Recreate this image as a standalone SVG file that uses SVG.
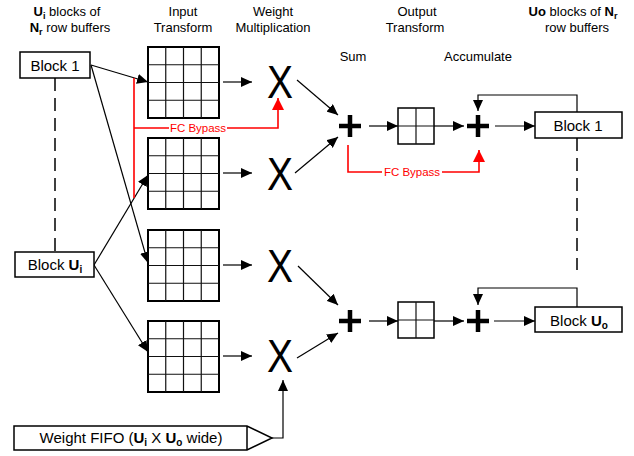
<svg xmlns="http://www.w3.org/2000/svg" xmlns:xlink="http://www.w3.org/1999/xlink" width="634" height="456" viewBox="0 0 634 456">
<style>
text{font-family:"Liberation Sans",Arial,sans-serif;fill:#000}
.lbl{font-size:13px}
.blk{font-size:15px}
.b{font-weight:bold}
.box{fill:#fff;stroke:#000;stroke-width:1.5}
.gout{fill:#fff;stroke:#000;stroke-width:2}
.gin{stroke:#111;stroke-width:1.2;fill:none}
.x{font-size:47px}
.plus{stroke:#000;stroke-width:4.5;fill:none}
.ln{stroke:#000;stroke-width:1.2;fill:none}
.arr{marker-end:url(#ah)}
.red{stroke:#f00;stroke-width:1.6;fill:none}
.redt{font-size:11.5px;fill:#f00}
.dash{stroke:#000;stroke-width:1.5;fill:none;stroke-dasharray:13,7}
</style>
<defs>
<marker id="ah" markerUnits="userSpaceOnUse" markerWidth="12" markerHeight="10" refX="11" refY="5" orient="auto">
<path d="M0,0 L11,5 L0,10 Z" fill="#000"/>
</marker>
<marker id="rah" markerUnits="userSpaceOnUse" markerWidth="12" markerHeight="14" refX="12" refY="6" orient="auto">
<path d="M0,0 L12,6 L0,12 Z" fill="#f00"/>
</marker>
<g id="g4">
<rect class="gout" x="0" y="0" width="71" height="71"/>
<path class="gin" d="M17.75,0V71M35.5,0V71M53.25,0V71M0,17.75H71M0,35.5H71M0,53.25H71"/>
</g>
<g id="g2">
<rect class="gout" x="0" y="0" width="36" height="36" style="stroke-width:1.5"/>
<path class="gin" d="M18,0V36M0,18H36"/>
</g>
</defs>
<rect width="634" height="456" fill="#fff"/>

<g id="headers">
<text class="lbl" x="67" y="16" text-anchor="middle"><tspan class="b">U</tspan><tspan class="b" font-size="9" dy="3">i</tspan><tspan dy="-3"> blocks of</tspan></text>
<text class="lbl" x="70" y="32" text-anchor="middle"><tspan class="b">N</tspan><tspan class="b" font-size="9" dy="3">r</tspan><tspan dy="-3"> row buffers</tspan></text>
<text class="lbl" x="183" y="16" text-anchor="middle">Input</text>
<text class="lbl" x="183" y="32" text-anchor="middle">Transform</text>
<text class="lbl" x="273" y="16" text-anchor="middle">Weight</text>
<text class="lbl" x="273" y="32" text-anchor="middle">Multiplication</text>
<text class="lbl" x="353" y="61" text-anchor="middle">Sum</text>
<text class="lbl" x="417" y="16" text-anchor="middle">Output</text>
<text class="lbl" x="415" y="32" text-anchor="middle">Transform</text>
<text class="lbl" x="478" y="61" text-anchor="middle">Accumulate</text>
<text class="lbl" x="573" y="16" text-anchor="middle"><tspan class="b">Uo</tspan><tspan> blocks of </tspan><tspan class="b">N</tspan><tspan class="b" font-size="9" dy="3">r</tspan></text>
<text class="lbl" x="577" y="32" text-anchor="middle">row buffers</text>
</g>

<g id="connectors">
<path class="dash" d="M55,78V252"/>
<path class="dash" d="M577,138V270"/>
<path class="ln arr" d="M91,65L148,82"/>
<path class="ln arr" d="M91,65L148,263"/>
<path class="ln arr" d="M94,265L148,175"/>
<path class="ln arr" d="M94,265L148,352"/>
<path class="ln arr" d="M223,82H252"/>
<path class="ln arr" d="M223,173H252"/>
<path class="ln arr" d="M223,265H252"/>
<path class="ln arr" d="M223,356H252"/>
<path class="ln arr" d="M297,80L338,115"/>
<path class="ln arr" d="M295,173L338,137"/>
<path class="ln arr" d="M298,266L338,305"/>
<path class="ln arr" d="M297,358L338,333"/>
<path class="ln arr" d="M369,126H398"/>
<path class="ln arr" d="M434,126H464"/>
<path class="ln arr" d="M495,126H535"/>
<path class="ln arr" d="M577,112V95H478V111"/>
<path class="ln arr" d="M369,321H398"/>
<path class="ln arr" d="M434,321H464"/>
<path class="ln arr" d="M494,321H535"/>
<path class="ln arr" d="M577,307V288H478V305"/>
<path class="ln arr" d="M272,438H283V380"/>
<path class="red" d="M134,78V198M134,128H169"/>
<path class="red" d="M227,128H278V98" marker-end="url(#rah)"/>
<text class="redt" x="198" y="132" text-anchor="middle">FC Bypass</text>
<path class="red" d="M348,145V172H382"/>
<path class="red" d="M442,172H479V150" marker-end="url(#rah)"/>
<text class="redt" x="412" y="176" text-anchor="middle">FC Bypass</text>
</g>

<g id="block1-in">
<rect class="box" x="20" y="52" width="70" height="26"/>
<text class="blk" x="55" y="71" text-anchor="middle">Block 1</text>
</g>
<g id="blockUi-in">
<rect class="box" x="15" y="252" width="79" height="25"/>
<text class="blk" x="55" y="270" text-anchor="middle">Block <tspan class="b">U</tspan><tspan class="b" font-size="10" dy="3">i</tspan></text>
</g>

<g id="it1"><use xlink:href="#g4" x="148" y="47"/></g>
<g id="it2"><use xlink:href="#g4" x="148" y="138"/></g>
<g id="it3"><use xlink:href="#g4" x="148" y="230"/></g>
<g id="it4"><use xlink:href="#g4" x="148" y="321"/></g>

<g id="mul1"><text class="x" x="280" y="98" text-anchor="middle" textLength="26" lengthAdjust="spacingAndGlyphs">X</text></g>
<g id="mul2"><text class="x" x="280" y="190" text-anchor="middle" textLength="26" lengthAdjust="spacingAndGlyphs">X</text></g>
<g id="mul3"><text class="x" x="280" y="282" text-anchor="middle" textLength="26" lengthAdjust="spacingAndGlyphs">X</text></g>
<g id="mul4"><text class="x" x="280" y="372" text-anchor="middle" textLength="26" lengthAdjust="spacingAndGlyphs">X</text></g>

<g id="sum1"><path class="plus" d="M339,126H361M350,115V137"/></g>
<g id="sum2"><path class="plus" d="M339,321H361M350,310V332"/></g>

<g id="ot1"><use xlink:href="#g2" x="398" y="108"/></g>
<g id="ot2"><use xlink:href="#g2" x="398" y="302"/></g>

<g id="acc1"><path class="plus" d="M467,126H489M478,115V137"/></g>
<g id="acc2"><path class="plus" d="M467,321H489M478,310V332"/></g>

<g id="block1-out">
<rect class="box" x="535" y="112" width="87" height="26"/>
<text class="blk" x="578" y="131" text-anchor="middle">Block 1</text>
</g>
<g id="blockUo-out">
<rect class="box" x="535" y="307" width="87" height="25"/>
<text class="blk" x="579" y="326" text-anchor="middle">Block <tspan class="b">U</tspan><tspan class="b" font-size="10" dy="3">o</tspan></text>
</g>

<g id="weight-fifo">
<path class="box" d="M14,426H247L272,438L247,450H14Z M247,426V450"/>
<text x="131" y="443" font-size="15" text-anchor="middle">Weight FIFO (<tspan class="b">U</tspan><tspan class="b" font-size="10" dy="3">i</tspan><tspan dy="-3"> X </tspan><tspan class="b">U</tspan><tspan class="b" font-size="10" dy="3">o</tspan><tspan dy="-3"> wide)</tspan></text>
</g>
</svg>
